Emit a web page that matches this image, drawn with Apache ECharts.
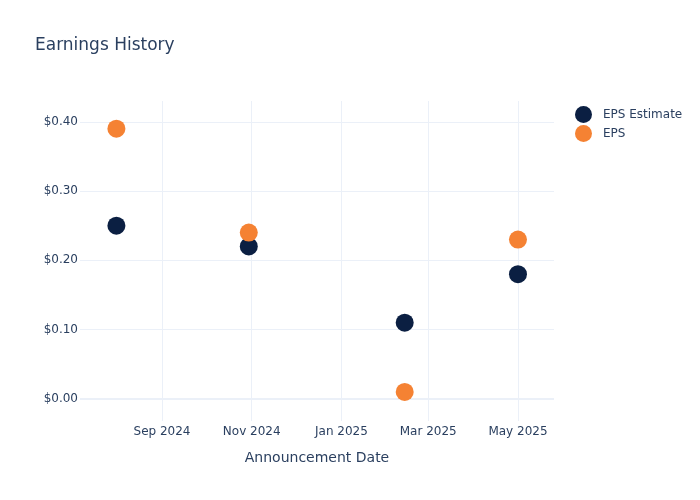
<!DOCTYPE html>
<html>
<head>
<meta charset="utf-8">
<script src="https://cdn.jsdelivr.net/npm/echarts@6/dist/echarts.min.js"></script>
<style>html,body{margin:0;padding:0;background:#fff}#c{width:700px;height:500px}</style>
</head>
<body>
<div id="c"></div>
<script>
var announcementDates = ['2024-08-01', '2024-10-30', '2025-02-13', '2025-05-01'];
var epsEstimate = [0.25, 0.22, 0.11, 0.18];
var epsActual = [0.39, 0.24, 0.01, 0.23];
var xTickDates = ['2024-09-01', '2024-11-01', '2025-01-01', '2025-03-01', '2025-05-01'];
var xTickLabels = ['Sep 2024', 'Nov 2024', 'Jan 2025', 'Mar 2025', 'May 2025'];
var yTicks = [0, 0.1, 0.2, 0.3, 0.4];

function ts(s) { return Date.parse(s + 'T00:00:00Z'); }
var xTickValues = xTickDates.map(ts);
var labelMap = {};
xTickValues.forEach(function (v, i) { labelMap[v] = xTickLabels[i]; });

var FONT = 'DejaVu Sans';
var TXT = '#2a3f5f';
var GRID = '#ebf0f8';

var chart = echarts.init(document.getElementById('c'));
chart.setOption({
  animation: false,
  textStyle: { fontFamily: FONT },
  title: {
    text: 'Earnings History',
    left: 30, top: 32,
    textStyle: { fontFamily: FONT, fontSize: 17, fontWeight: 'normal', color: TXT }
  },
  legend: {
    orient: 'vertical',
    left: 570, top: 101,
    itemWidth: 17, itemHeight: 17, itemGap: 2,
    icon: 'circle',
    textStyle: { fontFamily: FONT, fontSize: 12, color: TXT, padding: [0, 0, 0, 6] },
    data: ['EPS Estimate', 'EPS']
  },
  grid: { left: 80, right: 146, top: 101, bottom: 79, containLabel: false },
  xAxis: {
    type: 'value',
    min: ts('2024-07-07') + 6 * 3600000,
    max: ts('2025-05-25') + 12 * 3600000,
    name: 'Announcement Date',
    nameLocation: 'middle',
    nameGap: 30,
    nameTextStyle: { fontFamily: FONT, fontSize: 14, color: TXT },
    axisLine: { show: false },
    axisTick: { show: false, customValues: xTickValues },
    axisLabel: {
      customValues: xTickValues,
      margin: 5,
      fontFamily: FONT, fontSize: 12, color: TXT,
      formatter: function (v) { return labelMap[v] || ''; }
    },
    splitLine: { show: true, lineStyle: { color: GRID, width: 1 } }
  },
  yAxis: {
    type: 'value',
    min: -0.032,
    max: 0.43,
    axisLine: { show: false },
    axisTick: { show: false, customValues: yTicks },
    axisLabel: {
      customValues: yTicks,
      margin: 2,
      fontFamily: FONT, fontSize: 12, color: TXT,
      formatter: function (v) { return '$' + v.toFixed(2); }
    },
    splitLine: { show: true, lineStyle: { color: GRID, width: 1 } }
  },
  series: [
    {
      name: 'EPS Estimate',
      type: 'scatter',
      symbolSize: 18,
      itemStyle: { color: '#0b1f42', opacity: 1 },
      data: announcementDates.map(function (d, i) { return [ts(d), epsEstimate[i]]; }),
      markLine: {
        silent: true, symbol: 'none', label: { show: false },
        lineStyle: { color: GRID, width: 2, type: 'solid' },
        data: [{ yAxis: 0 }],
        z: 0
      },
      z: 3
    },
    {
      name: 'EPS',
      type: 'scatter',
      symbolSize: 18,
      itemStyle: { color: '#f58233', opacity: 1 },
      data: announcementDates.map(function (d, i) { return [ts(d), epsActual[i]]; }),
      z: 4
    }
  ]
});
</script>
</body>
</html>
